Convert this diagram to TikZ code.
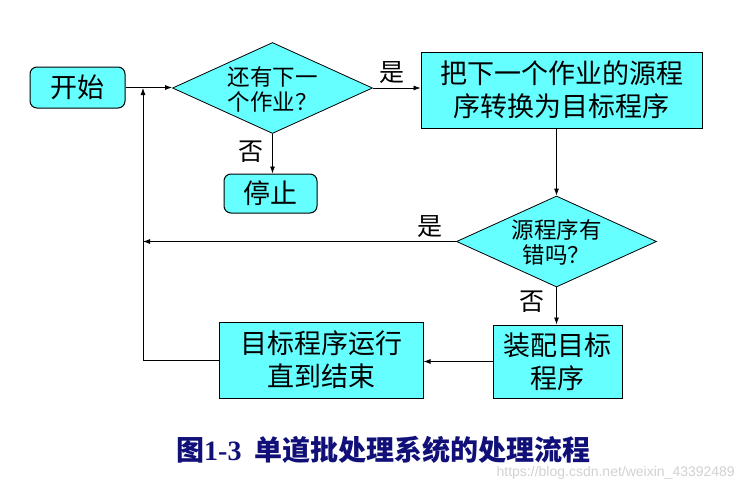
\documentclass[tikz,border=0pt]{standalone}
\usepackage{fontspec}
\setmainfont{Liberation Serif}
\newfontfamily\cjk{Noto Sans CJK SC}
\newfontfamily\wmfont{Liberation Sans}
\usetikzlibrary{shapes.geometric,arrows.meta}
\definecolor{boxcyan}{RGB}{102,255,255}
\definecolor{capblue}{RGB}{16,16,120}
\definecolor{wmgray}{RGB}{210,210,210}
\begin{document}
\begin{tikzpicture}[x=1pt,y=-1pt,
  box/.style={draw=black, line width=1pt, fill=boxcyan, inner sep=0pt, align=center, font=\cjk\fontsize{27}{33}\selectfont},
  rbox/.style={box, rounded corners=7pt},
  dia/.style={draw=black, line width=0.8pt, fill=boxcyan, diamond, inner sep=0pt, minimum width=200pt, minimum height=91pt},
  diatext/.style={align=center, inner sep=0pt, font=\cjk\fontsize{22.5}{25}\selectfont},
  lbl/.style={inner sep=0pt, font=\cjk\fontsize{25}{25}\selectfont},
  conn/.style={draw=black, line width=0.8pt},
  arr/.style={conn, -{Latex[length=7pt,width=5pt]}}
]
\useasboundingbox (0,0) rectangle (742,485);
\fill[white] (0,0) rectangle (742,485);

\node[rbox, minimum width=95pt, minimum height=41pt] (start) at (77.5,87.5) {开始};
\node[dia] (q1) at (272.5,88) {};
\node[diatext] (q1t) at (272.5,89) {还有下一\\个作业？};
\node[rbox, minimum width=93pt, minimum height=39pt] (stop) at (270.5,193.5) {停止};
\node[box, minimum width=281pt, minimum height=76pt] (conv) at (561.5,90) {把下一个作业的源程\\序转换为目标程序};
\node[dia] (q2) at (556.5,241.5) {};
\node[diatext] (q2t) at (556.5,242) {源程序有\\错吗？};
\node[box, minimum width=129pt, minimum height=73pt] (load) at (557.5,361.5) {装配目标\\程序};
\node[box, minimum width=204pt, minimum height=76pt] (run) at (321,360) {目标程序运行\\直到结束};
\coordinate (loopTop) at (143,88);

\draw[arr] (start.east) -- (start.east -| q1.west);
\draw[arr] (q1.east) -- (q1.east -| conv.west);
\draw[arr] (q1.south) -- (q1.south |- stop.north);
\draw[arr] (conv.south -| q2.north) -- (q2.north);
\draw[arr] (q2.west) -- (q2.west -| loopTop);
\draw[arr] (q2.south) -- (q2.south |- load.north);
\draw[arr] (load.west) -- (load.west -| run.east);
\draw[arr] (run.west) -| (loopTop);

\node[lbl] (yes1) at (392,73) {是};
\node[lbl] (no1) at (251,152) {否};
\node[lbl] (yes2) at (430,227) {是};
\node[lbl] (no2) at (532,302) {否};

\node[font=\wmfont\fontsize{14}{14}\selectfont, text=wmgray, anchor=east, inner sep=0pt] (wm) at (735,473) {https://blog.csdn.net/weixin\_43392489};
\node[font=\bfseries\fontsize{28}{28}\selectfont, text=capblue, anchor=west, inner sep=0pt] (cap) at (176,450) {{\cjk 图}1-3\hspace{13pt}{\cjk 单道批处理系统的处理流程}};
\end{tikzpicture}
\end{document}
